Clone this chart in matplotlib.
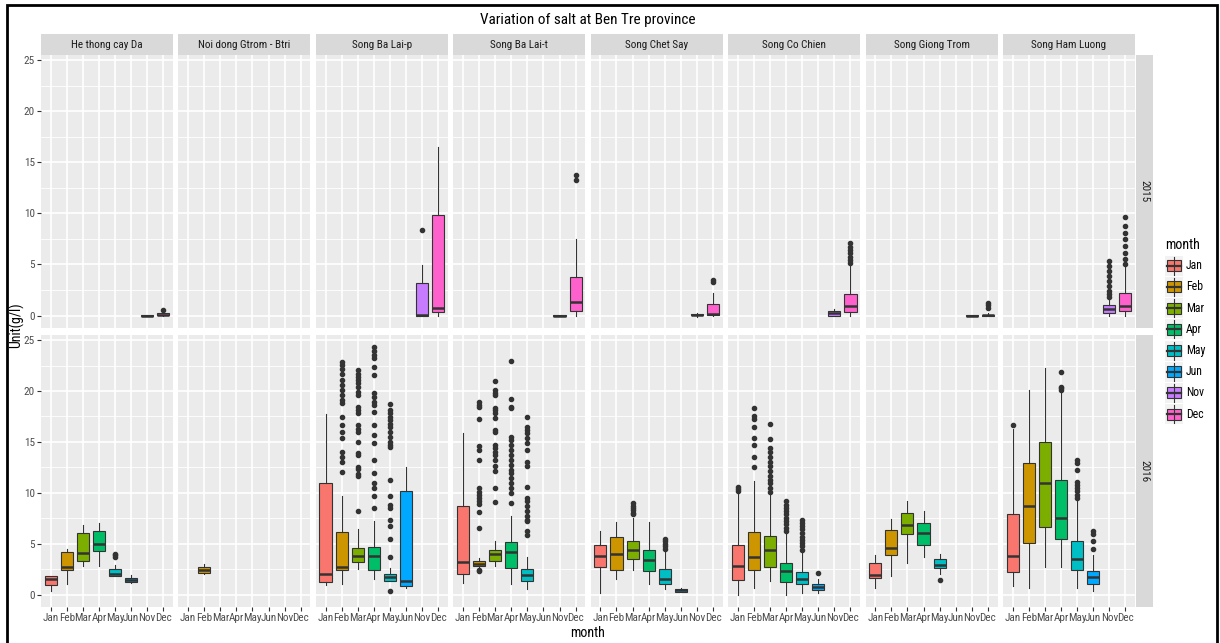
import matplotlib
matplotlib.use("Agg")
import matplotlib.pyplot as plt
from matplotlib import font_manager
from matplotlib.patches import Rectangle
from matplotlib.lines import Line2D

# the reference text is a narrow Arial-like face; use one if it is installed
_names = {f.name for f in font_manager.fontManager.ttflist}
_narrow = [n for n in ["Liberation Sans Narrow", "Arial Narrow", "Roboto Condensed",
                       "Open Sans Condensed", "Noto Sans Condensed"] if n in _names]
if _narrow:
    plt.rcParams['font.family'] = [_narrow[0], 'Liberation Sans', 'DejaVu Sans']
    fs = 1.0
else:
    plt.rcParams['font.family'] = ['Liberation Sans', 'DejaVu Sans']
    fs = 0.88

# =========================
# Data (box stats)
# (month, whisker low, q1, median, q3, whisker high, outliers)
# =========================
months = ["Jan", "Feb", "Mar", "Apr", "May", "Jun", "Nov", "Dec"]
month_colors = ["#F8766D", "#CD9600", "#7CAE00", "#00BE67",
                "#00BFC4", "#00A9FF", "#C77CFF", "#FF61CC"]
sites = ["He thong cay Da", "Noi dong Gtrom - Btri", "Song Ba Lai-p", "Song Ba Lai-t",
         "Song Chet Say", "Song Co Chien", "Song Giong Trom", "Song Ham Luong"]
years = ["2015", "2016"]
y_ticks = [0, 5, 10, 15, 20, 25]

# ---- 2015
hcd_2015 = [
    ("Nov", 0, 0, 0, 0.03, 0.05, []),
    ("Dec", 0, 0.03, 0.1, 0.2, 0.3, [0.52]),
]
ndg_2015 = []
blp_2015 = [
    ("Nov", 0, 0, 0.1, 3.14, 4.93, [8.37]),
    ("Dec", 0, 0.36, 0.72, 9.8, 16.54, []),
]
blt_2015 = [
    ("Nov", 0, 0, 0, 0.03, 0.05, []),
    ("Dec", 0, 0.49, 1.34, 3.76, 7.52, [13.24, 13.76]),
]
ccs_2015 = [
    ("Nov", -0.1, 0.05, 0.1, 0.15, 0.2, []),
    ("Dec", 0, 0.1, 0.15, 1.14, 2.22, [3.3, 3.45]),
]
cch_2015 = [
    ("Nov", 0, 0, 0.25, 0.49, 0.65, []),
    ("Dec", 0, 0.33, 0.98, 2.06, 4.83,
     [5.1, 5.42, 5.75, 6.08, 6.4, 6.73, 7.06]),
]
sgt_2015 = [
    ("Nov", 0, 0, 0, 0.03, 0.05, []),
    ("Dec", 0, 0, 0.03, 0.1, 0.2, [0.75, 1.0, 1.18]),
]
hl_2015 = [
    ("Nov", 0, 0.26, 0.64, 1.01, 1.5,
     [1.8, 2.06, 2.38, 2.87, 3.36, 3.85, 4.34, 4.82, 5.3]),
    ("Dec", 0, 0.42, 0.98, 2.22, 4.83,
     [5.0, 5.5, 6.1, 6.8, 7.45, 8.1, 8.76, 9.64]),
]

# ---- 2016
hcd_2016 = [
    ("Jan", 0.33, 0.98, 1.57, 1.8, 1.85, []),
    ("Feb", 1.05, 2.45, 2.75, 4.15, 4.48, []),
    ("Mar", 2.84, 3.27, 4.08, 6.05, 6.8, []),
    ("Apr", 2.84, 4.31, 5.0, 6.27, 7.03, []),
    ("May", 1.8, 1.86, 2.06, 2.52, 2.94, [3.7, 3.85, 4.0]),
    ("Jun", 1.15, 1.2, 1.4, 1.6, 1.95, []),
]
ndg_2016 = [
    ("Feb", 2.0, 2.12, 2.45, 2.71, 3.0, []),
]
blp_2016 = [
    ("Jan", 0.9, 1.2, 2.0, 11.0, 17.7, []),
    ("Feb", 1.05, 2.45, 2.75, 6.15, 9.64,
     [12.0, 13.07, 13.56, 14.05, 15.36, 16.0, 16.67, 17.48, 18.8, 19.1, 19.6,
      20.1, 20.59, 21.08, 21.7, 22.2, 22.55, 22.87]),
    ("Mar", 2.5, 3.2, 3.82, 4.57, 6.47,
     [8.2, 11.6, 11.8, 12.3, 12.5, 13.7, 13.86, 15.0, 16.0, 16.3, 16.67, 17.8,
      18.1, 18.46, 19.6, 19.93, 20.4, 20.75, 21.08, 21.4, 21.7, 22.06]),
    ("Apr", 1.54, 2.45, 3.82, 4.67, 7.25,
     [8.5, 9.64, 10.46, 10.95, 11.93, 13.24, 14.87, 15.7, 16.67, 17.97, 18.6,
      18.95, 19.4, 19.76, 21.6, 22.4, 23.2, 23.5, 23.9, 24.35]),
    ("May", 1.3, 1.37, 1.73, 2.03, 2.6,
     [0.4, 3.7, 5.5, 6.7, 7.35, 8.5, 8.8, 9.64, 11.27, 14.5, 14.7, 15.0, 15.5,
      16.0, 16.5, 16.8, 17.16, 17.48, 17.8, 18.1, 18.7]),
    ("Jun", 0.65, 0.82, 1.3, 10.2, 12.5, []),
]
blt_2016 = [
    ("Jan", 1.14, 2.06, 3.2, 8.66, 15.85, []),
    ("Feb", 2.6, 2.84, 3.0, 3.27, 3.55,
     [2.3, 2.45, 6.5, 8.1, 8.9, 9.15, 9.47, 9.8, 10.1, 10.5, 13.24, 14.2, 14.57,
      17.2, 18.4, 18.6, 18.95]),
    ("Mar", 2.84, 3.27, 3.99, 4.41, 5.23,
     [9.05, 10.5, 12.1, 12.6, 13.24, 13.7, 14.05, 14.4, 14.7, 16.0, 16.2, 17.3,
      17.8, 18.1, 18.3, 19.6, 19.76, 20.1, 21.0]),
    ("Apr", 1.05, 2.61, 4.15, 5.13, 7.75,
     [8.99, 9.97, 10.46, 10.95, 11.44, 11.93, 12.25, 12.7, 13.24, 13.7, 14.2,
      14.7, 15.2, 15.52, 18.3, 18.46, 19.19, 22.97]),
    ("May", 0.5, 1.37, 1.9, 2.52, 3.66,
     [5.9, 6.2, 7.2, 7.35, 7.7, 8.2, 8.66, 9.15, 9.47, 10.6, 12.6, 13.07, 14.2,
      14.87, 15.36, 15.85, 16.2, 16.5, 17.48]),
]
ccs_2016 = [
    ("Jan", 0.16, 2.71, 3.82, 4.9, 6.2, []),
    ("Feb", 1.54, 2.45, 3.99, 5.62, 7.09, []),
    ("Mar", 2.45, 3.53, 4.35, 5.23, 7.52, [7.9, 8.04, 8.3, 8.5, 8.73, 8.99]),
    ("Apr", 1.0, 2.29, 3.43, 4.35, 7.09, []),
    ("May", 0.5, 1.08, 1.57, 2.52, 4.41, [4.5, 4.77, 5.0, 5.23, 5.5]),
    ("Jun", 0.25, 0.28, 0.42, 0.56, 0.6, []),
]
cch_2016 = [
    ("Jan", 0.0, 1.4, 2.78, 4.9, 10.0, [10.2, 10.4, 10.6]),
    ("Feb", 0.65, 2.38, 3.69, 6.15, 11.2,
     [12.5, 13.56, 14.7, 15.36, 16.5, 17.2, 17.5, 18.3]),
    ("Mar", 1.3, 2.68, 4.35, 5.72, 10.0,
     [10.1, 10.46, 10.95, 11.27, 11.6, 12.1, 12.6, 13.07, 13.56, 14.05, 14.4,
      15.3, 16.8]),
    ("Apr", 0.0, 1.24, 2.35, 3.1, 6.0,
     [6.2, 6.55, 6.9, 7.2, 7.5, 7.9, 8.2, 8.5, 8.8, 9.15]),
    ("May", 0.2, 1.05, 1.57, 2.19, 4.3,
     [4.4, 4.74, 5.07, 5.4, 5.7, 6.05, 6.4, 6.7, 7.0, 7.35]),
    ("Jun", 0.16, 0.42, 0.75, 1.05, 1.54, [2.12]),
]
sgt_2016 = [
    ("Jan", 0.65, 1.63, 1.9, 3.1, 3.92, []),
    ("Feb", 1.8, 3.92, 4.57, 6.31, 7.42, []),
    ("Mar", 3.1, 5.95, 6.8, 8.0, 9.2, []),
    ("Apr", 3.69, 4.84, 6.05, 7.03, 8.24, []),
    ("May", 2.06, 2.61, 2.94, 3.5, 4.0, [1.4]),
]
hl_2016 = [
    ("Jan", 0.8, 2.19, 3.82, 7.94, 16.24, [16.67]),
    ("Feb", 0.65, 5.07, 8.66, 12.9, 20.1, []),
    ("Mar", 2.68, 6.63, 11.0, 14.97, 22.3, []),
    ("Apr", 2.71, 5.49, 7.52, 11.27, 19.8, [20.1, 20.25, 20.4, 21.83]),
    ("May", 0.65, 2.45, 3.53, 5.29, 9.3,
     [9.5, 9.8, 10.13, 10.46, 10.8, 11.1, 12.25, 12.9, 13.24]),
    ("Jun", 0.33, 1.08, 1.73, 2.29, 3.92, [4.5, 5.3, 5.96, 6.2]),
]

panels = {
    "2015": [hcd_2015, ndg_2015, blp_2015, blt_2015, ccs_2015, cch_2015, sgt_2015, hl_2015],
    "2016": [hcd_2016, ndg_2016, blp_2016, blt_2016, ccs_2016, cch_2016, sgt_2016, hl_2016],
}

# =========================
# Layout (pixel positions of the ggplot panels)
# =========================
W, H = 1220, 643
fig = plt.figure(figsize=(W / 100, H / 100), dpi=100)


def fbox(x0, y0, x1, y1):
    return [x0 / W, 1 - y1 / H, (x1 - x0) / W, (y1 - y0) / H]


col_left = [41 + i * 137.43 for i in range(8)]
panel_w = 132
row_top = [55, 335]
row_bot = [328, 607]

text_grey = "#4D4D4D"
edge = "#333333"

for r, year in enumerate(years):
    for c, site in enumerate(sites):
        x0 = col_left[c]
        ax = fig.add_axes(fbox(x0, row_top[r], x0 + panel_w, row_bot[r]))
        ax.set_facecolor("#EBEBEB")

        rows = panels[year][c]
        if rows:
            stats, pos, cols = [], [], []
            for m, lo, q1, med, q3, hi, fl in rows:
                stats.append(dict(whislo=lo, q1=q1, med=med, q3=q3, whishi=hi, fliers=fl))
                pos.append(months.index(m) + 1)
                cols.append(month_colors[months.index(m)])
            bp = ax.bxp(stats, positions=pos, widths=0.75, patch_artist=True,
                        showcaps=False, manage_ticks=False,
                        boxprops=dict(edgecolor=edge, linewidth=0.8),
                        whiskerprops=dict(color=edge, linewidth=0.8),
                        medianprops=dict(color=edge, linewidth=1.8),
                        flierprops=dict(marker="o", markerfacecolor=edge,
                                        markeredgecolor=edge, markersize=3))
            for b, col in zip(bp["boxes"], cols):
                b.set_facecolor(col)

        ax.set_xlim(0.4, 8.6)
        ax.set_ylim(-1.22, 25.5)
        ax.set_xticks(range(1, 9))
        ax.set_yticks(y_ticks)
        ax.set_yticks([2.5, 7.5, 12.5, 17.5, 22.5], minor=True)
        ax.grid(True, which="major", color="white", lw=1.2)
        ax.grid(True, which="minor", axis="y", color="white", lw=0.6)
        ax.set_axisbelow(True)
        for s in ax.spines.values():
            s.set_visible(False)
        ax.tick_params(which="minor", length=0)
        ax.tick_params(which="major", length=3, width=0.8, color=edge,
                       labelsize=8 * fs, labelcolor=text_grey, pad=1.5)
        if c == 0:
            ax.set_yticklabels([str(v) for v in y_ticks])
        else:
            ax.tick_params(axis="y", length=0, labelleft=False)
        if r == 1:
            ax.set_xticklabels(months)
        else:
            ax.tick_params(axis="x", length=0, labelbottom=False)

        # top strips
        if r == 0:
            sax = fig.add_axes(fbox(x0, 34, x0 + panel_w, 55))
            sax.set_facecolor("#D9D9D9")
            sax.set_xticks([])
            sax.set_yticks([])
            for s in sax.spines.values():
                s.set_visible(False)
            sax.text(0.5, 0.5, site, ha="center", va="center", fontsize=8 * fs,
                     color="#1A1A1A", transform=sax.transAxes)

    # right strips
    rax = fig.add_axes(fbox(1136, row_top[r], 1153, row_bot[r]))
    rax.set_facecolor("#D9D9D9")
    rax.set_xticks([])
    rax.set_yticks([])
    for s in rax.spines.values():
        s.set_visible(False)
    rax.text(0.5, 0.5, year, ha="center", va="center", rotation=-90, fontsize=8 * fs,
             color="#1A1A1A", transform=rax.transAxes)

# titles
fig.text(588 / W, 1 - 20 / H, "Variation of salt at Ben Tre province",
         ha="center", va="center", fontsize=11 * fs)
fig.text(588 / W, 1 - 633 / H, "month", ha="center", va="center", fontsize=10 * fs)
fig.text(16 / W, 1 - 325 / H, "Unit(g/l)", ha="center", va="center",
         rotation=90, fontsize=10 * fs)

# legend (drawn by hand in pixel coords)
lax = fig.add_axes(fbox(1155, 230, 1215, 430))
lax.set_xlim(1155, 1215)
lax.set_ylim(430, 230)
lax.axis("off")
lax.text(1165, 245, "month", ha="left", va="center", fontsize=10 * fs)
for i, (m, col) in enumerate(zip(months, month_colors)):
    yc = 265.7 + i * 21.2
    lax.add_patch(Rectangle((1165, yc - 10), 18, 20, facecolor="#F2F2F2", edgecolor="none"))
    lax.add_line(Line2D([1174, 1174], [yc - 9, yc + 9], color=edge, lw=0.8))
    lax.add_patch(Rectangle((1167, yc - 5.5), 14, 11, facecolor=col, edgecolor=edge, lw=0.8))
    lax.add_line(Line2D([1167, 1181], [yc, yc], color=edge, lw=1.6))
    lax.text(1186, yc, m, ha="left", va="center", fontsize=8.5 * fs)

# black frame of the screenshot
fig.add_artist(Rectangle((6.5 / W, -0.1), (1217 - 6.5) / W, 1 - 5.5 / H + 0.1,
                         transform=fig.transFigure, fill=False, edgecolor="black",
                         lw=2, clip_on=False))

fig.savefig("out.png", dpi=100)
